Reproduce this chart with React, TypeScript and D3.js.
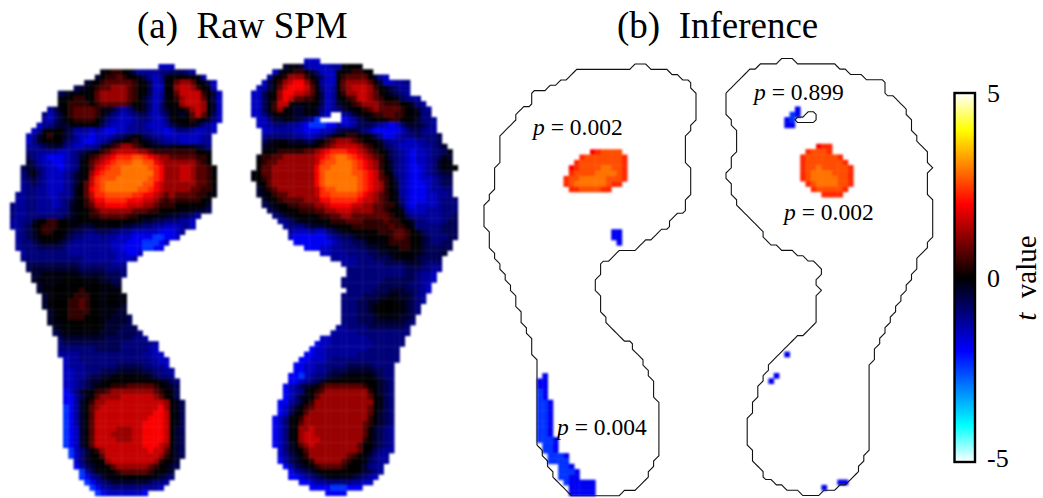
import React, { useEffect, useRef } from 'react';
import * as d3 from 'd3';

// each char of a row is one sensor cell
const levelChars = 'hgfedcba012345678';
const levelValues = [-2.4, -1.9, -1.5, -1.2, -0.95, -0.65, -0.35, -0.12, 0, 0.35, 0.7, 1.2, 1.55, 1.95, 2.3, 2.6, 2.9];

const colorStops = [-5, -4, -3, -2, 0, 2, 3, 4, 5];
const colorNames = ['#ffffff', '#00ffff', '#0080ff', '#0000ff', '#000000', '#ff0000', '#ff8000', '#ffff00', '#ffffff'];
const barTicks = ['5', '0', '-5'];

// [first column, cells] per row, spaces only group the cells
const leftFoot: [number, string][] = [
  [28, 'fff'],
  [17, 'a0110a ceeeeddcccde'],
  [16, 'b0112100 acefe a00000a e'],
  [14, 'ba 012222210 acfe a0233200 cf'],
  [12, 'cba0 122333210 0cff 00344310 af'],
  [9, 'cbaa000 233333210 acfe a02444410 bf'],
  [9, 'a001100 233333210 bdfe a01344420 cf'],
  [9, 'a011110 122222100 bdfd a00344430 bf'],
  [7, 'eca 0122221 aabdedba bdfd b0a013430 bf'],
  [6, 'dfdb 0122221 abdefedc cefe c0ab02420 cf'],
  [6, 'efdb a011110 bdefffed deff da000100b df'],
  [5, 'fedcb baa000a cefffeed efffe cbaaabd ef'],
  [4, 'fea000 bceeefe fggffeed eeffg fdddeff ef'],
  [3, 'feb0100 bceffgf ffedcbaa cdeef ffffffe e'],
  [3, 'fdb0000 cdefggf edba0010 abcde eeffffe e'],
  [3, 'eedcbbb deffeed a0123321 0aaab aaaaabc d'],
  [3, 'ddeeeef fedcba0 12344443 32111 1111100 a'],
  [3, 'cdefggg fedb012 34566677 65433 2222211 0'],
  [3, 'bceffgg feda023 45677788 77543 3333321 0'],
  [2, 'cbbdeffg feda024 56778888 87653 3344322 10'],
  [2, 'dbacefff edba035 67778888 88653 3344322 1a'],
  [2, 'dcbdefff edba046 77788888 87653 3344322 10'],
  [2, 'edcdefff edb0246 78888888 77543 3333322 10'],
  [2, 'eddeefff eda0256 78888887 76543 3333221 1a'],
  [1, 'eeddeeffe eda0246 67777766 55432 3222211 0a'],
  [1, 'eeddeeefe dca0135 56666555 44321 2111110 a'],
  [0, 'deeddeeefe dba0124 45555444 33211 1000000 b'],
  [0, 'deeddeeeed dba0012 33333322 21100 00aaabb c'],
  [0, 'deeddddddd cba0011 22222110 000aa bbccde'],
  [0, 'eeddb00110 0aa0000 000000aa bbccd ddeef'],
  [0, 'eedca01110 0aabbba aaaabbcc ddeef ffeef'],
  [1, 'edcb01100 abccddc ccddeeff fffgg gfe'],
  [1, 'edcba0000 bcddeee deefffgg gghhg gf'],
  [1, 'eddcbaaab cdeeeee eefffggg hhhgf'],
  [1, 'edddccccc deeeeee eeffgggg hhgg'],
  [2, 'eddddddd deeeeee eeeffggf'],
  [2, 'dddddddd ddddeee eeefffe'],
  [3, 'ccccccc cccdddd ddeee'],
  [3, 'cbbbbbb bbbcccc cdddd'],
  [4, 'bbaaaa aaabbbb bcccd'],
  [4, 'baaaaa 0000aaa bbcc'],
  [5, 'baaa0 0000000 aabb'],
  [5, 'baa00 0001000 aaaa'],
  [6, 'baa0 0011100 a00aa'],
  [6, 'ba00 0112100 a00aa'],
  [6, 'ba00 0112100 aaaab'],
  [7, 'ba0 0111100 aaabb'],
  [7, 'ba0 0111000 aabbbc'],
  [7, 'baa 0000000 abbbbc'],
  [8, 'ba a000000 abbbccc'],
  [8, 'cb aaaaaaa bbbccccd'],
  [9, 'c bbbbbbb bcccccdde'],
  [9, 'd ccccccc ccccdddddee'],
  [9, 'd ddddddc ccccdddddef'],
  [9, 'e eeedddd ddddddddeeff'],
  [10, 'feedddd dddddddddeeff'],
  [10, 'feeeddd dddcccccddeef'],
  [10, 'ffeeddd cccbbbbbccddee'],
  [10, 'ffeedcc bbaaaaaaabcdde'],
  [10, 'ffedcbb a0000000000abcd'],
  [10, 'ffedcba 001112222210abc'],
  [10, 'gfdba01 123333333321 0 ac'],
  [10, 'ggeca02 333344444432 0 ac'],
  [10, 'ggeb013 344444444444 3 0 ac'],
  [10, 'hgeb023 444444444445 3 0 ac'],
  [10, 'hgeb024 444444444455 4 0 ac'],
  [10, 'hgeb024 444444444555 4 0 ac'],
  [10, 'hgeb024 444444445555 4 0 ac'],
  [10, 'hgfb024 444333445555 4 0 bc'],
  [10, 'hgfb024 443333445555 4 0 bc'],
  [10, 'hgfb024 444333445555 4 0 bc'],
  [10, 'hgfb024 444444445554 3 0 bc'],
  [11, 'hfdb01 344444444544 2 a bc'],
  [11, 'hfdb00 244444444443 1 a bc'],
  [12, 'fdba0 034444444431 0 ab'],
  [12, 'gecba 002333333210 a bc'],
  [13, 'heca a00122222100 ab'],
  [13, 'hged baa000000aab cd'],
  [14, 'hge dcbbbbbbbcdde'],
  [15, 'hg eeddddddeeef'],
  [16, 'h gfffffffg'],
];

const rightFoot: [number, string][] = [
  [10, 'fff'],
  [6, 'baab effffee a00a'],
  [4, 'fb a0110 bdfff a001100'],
  [3, 'ea 0133310 bdff 0122220 bef'],
  [2, 'fb0 1345531 aeff 0233332 0bf feed'],
  [1, 'fec0 2455542 0dfe 0234443 10a cdee'],
  [0, 'ffca0 3554432 0cfe a133443 20a bcde'],
  [0, 'ffca0 3542211 0cfe a012443 210 0acd ee'],
  [0, 'ffca1 440aaa0 0cfe ba01233 321 1100 bde'],
  [0, 'ffca1 30abba0 bdfe dba0012 322 2210 abde'],
  [0, 'ffdb0 0aabbaa bef .. edba00 112 2110 aadd'],
  [1, 'ffdb baabcde h .... gfecba 000 1100 abdde'],
  [1, 'ffed ddeefgh h hgge ffeccc def gfdb bbcde'],
  [2, 'ffe eeeffgg g ffec bbbcde ggg ggfd ccdee'],
  [2, 'edd dddeeff e dca0 01100a ceg gfed dcdddc'],
  [2, 'cba aabbbcc a 0123 332100 abd eeef feeddc'],
  [2, 'baa 0000000 0 1234 444321 0ac deff ffeedcb'],
  [2, 'a00 1111122 3 4566 655432 10a cdef gffeddca'],
  [1, 'a 112 2333333 4 5678 876543 21a cdef gffedcab'],
  [1, '0 122 3333333 4 6778 887654 310 bdef gffedbaa'],
  [1, '0 223 3333333 5 7788 887654 310 bdef ggfedbaa0'],
  [0, 'a 0 223 3333333 5 7888 887765 420 adef ggfedcbb'],
  [0, 'a 0 123 3333333 5 7888 888765 421 0cef ggffedcc'],
  [1, 'a 023 3333333 5 7888 888765 431 0bef gggfedcc'],
  [1, 'b 012 3333333 4 6778 888765 431 0bef gggfeedd'],
  [1, 'b a01 2233333 4 6677 777654 321 0aef gggffeed'],
  [2, 'ba0 1222233 3 5566 666544 321 0adf gggffeddd'],
  [2, 'cba 0011222 3 3455 554433 221 10cf gffffeddd'],
  [3, 'cb a000111 2 2334 443333 221 00ae fffeeeddd'],
  [4, 'd cba0000 0 1122 332222 222 100c eeeeeeddc'],
  [5, 'edcbaaa 0 0011 122211 112 1100 bddeeedcc'],
  [6, 'edddcb b baa0 001111 111 2110 adddddccc'],
  [7, 'efffe f fdcb aa0000 011 1221 0acdddccc'],
  [7, 'fgggg g gfed ccbaa0 000 1221 00bcdddcc'],
  [8, 'gggg g ggfe ddccba aa0 1111 00bcddcc'],
  [10, 'gg g ffee dddccb baa 0011 00bccccc'],
  [13, 'ffee eddddc cbb aa00 aabcccb'],
  [15, 'ee eeeddd ccc baaa abcccc'],
  [17, 'eeeddd ddc cccb bbcddd'],
  [18, 'ddddd ddd dddc ccddee'],
  [18, 'ddddd ddd dddc cdeef'],
  [17, 'dddddd ddc cccc cdeef'],
  [17, 'dddddd dcc cccc ddef'],
  [18, 'ddddd ccc bbbc cdef'],
  [17, 'ddddcc cbb aabb cde'],
  [17, 'dddccb ba0 0aab cde'],
  [17, 'dddccb a00 00ab cd'],
  [17, 'dddccb a00 0aab cd'],
  [17, 'dddccc baa aabb c'],
  [17, 'dddccc bbb bbbc d'],
  [16, 'e eddddc ccc cccd'],
  [15, 'ee eeeddd ddd dddd'],
  [13, 'ffee eeeeed ddd ddd'],
  [12, 'g ffee eeeeee ddd ddd'],
  [11, 'gf feee eeeeed ddd dd'],
  [10, 'ggf feee eeeddd ddd dd'],
  [9, 'ggff fedd dddddd ddd dd'],
  [8, 'ggffe eddd dccccc ddd d'],
  [8, 'ggffe edcc cbbbbb ccd d'],
  [7, 'gghfed dcbb aaaaaa bcd d'],
  [7, 'ggfedc ba00 000000 abc d'],
  [6, 'gfecba 01222222210 a bcd'],
  [6, 'gfeda0 12333333331 0 bcd'],
  [6, 'gfdba0 23333333332 0 acd'],
  [5, 'ggedb 0 1 33333333333 0 acd'],
  [5, 'gfdb0 1 2 33333333332 0 acd'],
  [5, 'gfca0 2 3 33333333332 0 bcd'],
  [4, 'gfda0 1 33 33333333331 a bcd'],
  [4, 'gfda0 2 33 33333333321 a bcd'],
  [4, 'gfda0 3 34 33333333320 b cde'],
  [4, 'gfda0 3 44 33333333320 b cde'],
  [4, 'gfda0 3 44 43333333310 b cde'],
  [4, 'gfdb0 2 34 33333333200 b cde'],
  [5, 'fdba0 2 3 3333333320a c dee'],
  [5, 'fecb0 1 3 333333210a bdee'],
  [5, 'gecba 0 1 333332100a cdee'],
  [6, 'gecba 0 12222100 abdee'],
  [7, 'gedcb a0000000 abcde'],
  [7, 'ggfed cbaaaaab cdef'],
  [9, 'ggfe eddddde eff'],
  [11, 'gg gghhhggg'],
  [14, 'gggg'],
];

// significant clusters in panel (b): [row, first column, cells]
const leftClusters: [number, number, string][] = [
  [16, 20, '567777'],
  [17, 18, '677777776'],
  [18, 17, '6777777776'],
  [19, 16, '56777788776'],
  [20, 16, '67777888876'],
  [21, 15, '677888887776'],
  [22, 15, '67888888766'],
  [23, 16, '66777766'],
  [31, 24, 'gg'],
  [32, 24, 'gg'],
  [33, 25, 'g'],
  [58, 11, 'g'],
  [59, 10, 'gg'],
  [60, 10, 'gg'],
  [61, 10, 'hg'],
  [62, 10, 'hg'],
  [63, 10, 'hhg'],
  [64, 10, 'hhg'],
  [65, 10, 'hhg'],
  [66, 10, 'hhg'],
  [67, 10, 'hhg'],
  [68, 10, 'hhg'],
  [69, 10, 'hhg'],
  [70, 10, 'hhhg'],
  [71, 11, 'hhg'],
  [72, 11, 'hhg'],
  [73, 12, 'hhhg'],
  [74, 12, 'hhhh'],
  [75, 14, 'hhg'],
  [76, 14, 'hhhg'],
  [77, 14, 'hhgg'],
  [78, 15, 'hggggg'],
  [79, 16, 'ggggg'],
  [80, 16, 'ggggg'],
];

const rightClusters: [number, number, string][] = [
  [9, 13, 'g'],
  [10, 12, 'hg'],
  [11, 11, 'gh'],
  [12, 11, 'gg'],
  [16, 17, '566'],
  [17, 15, '67776'],
  [18, 14, '67777776'],
  [19, 14, '677777776'],
  [20, 14, '6778777776'],
  [21, 14, '6788887776'],
  [22, 14, '6788888776'],
  [23, 15, '678888776'],
  [24, 16, '6777776'],
  [25, 18, '6666'],
  [55, 11, 'g'],
  [59, 9, 'g'],
  [60, 8, 'g'],
  [79, 21, 'gg'],
  [80, 18, 'g'],
];

const pLabels = [
  { value: '0.002', x: 533, y: 135 },
  { value: '0.899', x: 754, y: 100 },
  { value: '0.002', x: 784, y: 220 },
  { value: '0.004', x: 557, y: 435 },
];

const COLS = 41;
const CELL_W = 5.3;
const CELL_H = 5.33;
const FONT = '"Liberation Serif", serif';

type Cell = { col: number; row: number; t: number };

const toValue = (ch: string) => levelValues[levelChars.indexOf(ch)];

const footCells = (rows: [number, string][]): Cell[] =>
  rows.flatMap(([start, text], row) =>
    text
      .replace(/ /g, '')
      .split('')
      .map((ch, i) => ({ col: start + i, row, ch }))
      .filter((d) => d.ch !== '.')
      .map((d) => ({ col: d.col, row: d.row, t: toValue(d.ch) }))
  );

const clusterCells = (rows: [number, number, string][]): Cell[] =>
  rows.flatMap(([row, start, text]) => text.split('').map((ch, i) => ({ col: start + i, row, t: toValue(ch) })));

export default function App() {
  const svgRef = useRef<SVGSVGElement>(null);

  useEffect(() => {
    const svg = d3.select(svgRef.current);
    svg.selectAll('*').remove();

    const color = d3.scaleLinear<string>().domain(colorStops).range(colorNames).clamp(true);
    const defs = svg.append('defs');
    defs.append('filter').attr('id', 'soft').append('feGaussianBlur').attr('stdDeviation', 0.95);

    const drawCells = (cells: Cell[], x0: number, y0: number, rowCount: number, soft: boolean) => {
      const x = d3.scaleLinear().domain([0, COLS]).range([x0, x0 + COLS * CELL_W]);
      const y = d3.scaleLinear().domain([0, rowCount]).range([y0, y0 + rowCount * CELL_H]);
      const g = svg.append('g').attr('filter', soft ? 'url(#soft)' : null);
      g.selectAll('rect')
        .data(cells)
        .enter()
        .append('rect')
        .attr('x', (d) => x(d.col))
        .attr('y', (d) => y(d.row))
        .attr('width', CELL_W + 0.4)
        .attr('height', CELL_H + 0.4)
        .attr('fill', (d) => color(d.t));
    };

    // foot outline is the contour of the measured cells
    const drawOutline = (cells: Cell[], x0: number, y0: number, rowCount: number) => {
      const w = COLS + 2;
      const h = rowCount + 2;
      const mask = new Array(w * h).fill(0);
      cells.forEach((c) => {
        mask[(c.row + 1) * w + c.col + 1] = 1;
      });
      const x = d3.scaleLinear().domain([1, COLS + 1]).range([x0, x0 + COLS * CELL_W]);
      const y = d3.scaleLinear().domain([1, rowCount + 1]).range([y0, y0 + rowCount * CELL_H]);
      const line = d3.line<number[]>().x((d) => x(d[0])).y((d) => y(d[1]));
      const shape = d3.contours().size([w, h]).thresholds([0.5])(mask)[0];
      svg
        .append('path')
        .attr('d', shape.coordinates.flatMap((poly) => poly.map((ring) => line(ring as number[][]))).join(''))
        .attr('fill', 'none')
        .attr('stroke', '#111')
        .attr('stroke-width', 1.1);
    };

    const leftCells = footCells(leftFoot);
    const rightCells = footCells(rightFoot);

    // panel (a)
    drawCells(leftCells, 10, 64, leftFoot.length, true);
    drawCells(rightCells, 251, 58.5, rightFoot.length, true);

    // panel (b)
    drawCells(clusterCells(leftClusters), 484, 64, leftFoot.length, true);
    drawCells(clusterCells(rightClusters), 726, 58.5, rightFoot.length, true);
    drawOutline(leftCells, 484, 64, leftFoot.length);
    drawOutline(rightCells, 726, 58.5, rightFoot.length);

    // titles
    const title = (x: number, label: string) =>
      svg
        .append('text')
        .attr('x', x)
        .attr('y', 38)
        .attr('font-family', FONT)
        .attr('font-size', 37)
        .attr('xml:space', 'preserve')
        .style('white-space', 'pre')
        .text(label);
    title(137, '(a)  Raw SPM');
    title(617, '(b)  Inference');

    // p values
    const labels = svg
      .selectAll('.p-label')
      .data(pLabels)
      .enter()
      .append('text')
      .attr('class', 'p-label')
      .attr('x', (d) => d.x)
      .attr('y', (d) => d.y)
      .attr('font-family', FONT)
      .attr('font-size', 23.5);
    labels.append('tspan').attr('font-style', 'italic').text('p');
    labels.append('tspan').text((d) => ` = ${d.value}`);

    // colour bar
    const barY = d3.scaleLinear().domain([5, -5]).range([93, 462]);
    const grad = defs
      .append('linearGradient')
      .attr('id', 'bar-grad')
      .attr('x1', 0)
      .attr('x2', 0)
      .attr('y1', 0)
      .attr('y2', 1);
    colorStops
      .slice()
      .reverse()
      .forEach((t) => {
        grad
          .append('stop')
          .attr('offset', (5 - t) / 10)
          .attr('stop-color', color(t));
      });
    svg
      .append('rect')
      .attr('x', 954.5)
      .attr('y', barY(5))
      .attr('width', 20.5)
      .attr('height', barY(-5) - barY(5))
      .attr('fill', 'url(#bar-grad)')
      .attr('stroke', '#000')
      .attr('stroke-width', 2.4);

    svg
      .selectAll('.bar-tick')
      .data(barTicks)
      .enter()
      .append('text')
      .attr('class', 'bar-tick')
      .attr('x', 987)
      .attr('y', (d) => barY(+d) + (d === '-5' ? 5 : 9))
      .attr('font-family', FONT)
      .attr('font-size', 26)
      .text((d) => d);

    const axisLabel = svg
      .append('text')
      .attr('transform', `translate(1036,278) rotate(-90)`)
      .attr('text-anchor', 'middle')
      .attr('font-family', FONT)
      .attr('font-size', 29)
      .style('white-space', 'pre');
    axisLabel.append('tspan').attr('font-style', 'italic').text('t');
    axisLabel.append('tspan').text('  value');
  }, []);

  return (
    <svg
      ref={svgRef}
      width={1043}
      height={498}
      style={{ position: 'absolute', left: 0, top: 0, display: 'block', background: '#fff' }}
    />
  );
}
